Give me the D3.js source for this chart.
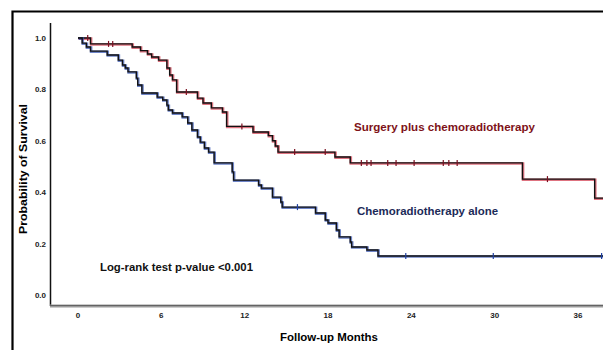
<!DOCTYPE html>
<html>
<head>
<meta charset="utf-8">
<script src="https://cdn.jsdelivr.net/npm/d3@7"></script>
<style>
  body { margin: 0; background: #fff; }
  svg { display: block; font-family: "Liberation Sans", Arial, sans-serif; }
</style>
</head>
<body>
<svg id="chart" width="603" height="350"></svg>
<script>
// x ticks (months) and y ticks (survival)
var monthTicks = [0, 6, 12, 18, 24, 30, 36];
var survTicks = [0.0, 0.2, 0.4, 0.6, 0.8, 1.0];

// surgery plus chemoradiotherapy: event times / survival after each step
var surgTimes = [0, 0.9, 3.9, 4.5, 5.0, 5.3, 5.8, 6.4, 6.6, 6.8, 7.1, 8.6, 9.0, 9.6, 10.4, 10.7, 12.6, 13.7, 14.0, 14.2, 14.4, 18.5, 19.6, 32.0, 37.2];
var surgSurv  = [1, 0.977, 0.965, 0.951, 0.938, 0.926, 0.914, 0.883, 0.856, 0.837, 0.79, 0.766, 0.747, 0.728, 0.712, 0.656, 0.634, 0.62, 0.60, 0.58, 0.556, 0.537, 0.514, 0.451, 0.377];
var surgCensor = [0.7, 2.2, 2.5, 7.8, 11.8, 15.6, 17.8, 20.4, 20.8, 21.1, 22.3, 22.9, 24.2, 26.3, 26.7, 27.3, 33.8];

// chemoradiotherapy alone
var chemoTimes = [0, 0.3, 0.6, 0.9, 2.1, 2.9, 3.2, 3.4, 3.6, 4.2, 4.3, 4.6, 5.7, 6.1, 6.4, 6.5, 6.8, 7.5, 7.9, 8.2, 8.6, 8.8, 9.1, 9.4, 9.8, 11.1, 11.2, 13.0, 13.2, 14.0, 14.6, 14.7, 17.1, 17.8, 18.0, 18.6, 18.8, 19.6, 19.7, 20.8, 21.6];
var chemoSurv  = [1, 0.98, 0.965, 0.949, 0.934, 0.914, 0.895, 0.883, 0.868, 0.844, 0.817, 0.786, 0.770, 0.759, 0.739, 0.720, 0.708, 0.693, 0.669, 0.642, 0.615, 0.595, 0.572, 0.556, 0.514, 0.479, 0.447, 0.428, 0.416, 0.381, 0.362, 0.342, 0.319, 0.292, 0.280, 0.253, 0.226, 0.206, 0.187, 0.175, 0.152];
var chemoCensor = [15.8, 23.6, 29.9, 37.7];

var endMonth = 38;

var svg = d3.select("#chart");

var x = d3.scaleLinear().domain([0, 36]).range([78, 578]);
var y = d3.scaleLinear().domain([0, 1]).range([295, 38]);

// outer frame (left + top)
svg.append("path")
	.attr("d", "M12.5,350 L12.5,11.5 L603,11.5")
	.attr("fill", "none")
	.attr("stroke", "#000")
	.attr("stroke-width", 2.2);

// y axis line
svg.append("line")
	.attr("x1", 50.5).attr("x2", 50.5)
	.attr("y1", 23).attr("y2", 306)
	.attr("stroke", "#111").attr("stroke-width", 1.5);

// x axis line (grey, doubled look)
svg.append("line")
	.attr("x1", 50).attr("x2", 603)
	.attr("y1", 306).attr("y2", 306)
	.attr("stroke", "#9a9a9a").attr("stroke-width", 3);
svg.append("line")
	.attr("x1", 50).attr("x2", 603)
	.attr("y1", 305.5).attr("y2", 305.5)
	.attr("stroke", "#555").attr("stroke-width", 0.8);

// tick labels
svg.append("g").selectAll("text")
	.data(survTicks)
	.enter().append("text")
	.attr("x", 46)
	.attr("y", function(d) { return y(d) + 3; })
	.attr("text-anchor", "end")
	.attr("font-size", 8)
	.attr("font-weight", "bold")
	.attr("fill", "#222")
	.text(function(d) { return d.toFixed(1); });

svg.append("g").selectAll("text")
	.data(monthTicks)
	.enter().append("text")
	.attr("x", function(d) { return x(d); })
	.attr("y", 318)
	.attr("text-anchor", "middle")
	.attr("font-size", 8)
	.attr("font-weight", "bold")
	.attr("fill", "#222")
	.text(function(d) { return d; });

// axis titles
svg.append("text")
	.attr("x", 329).attr("y", 341)
	.attr("text-anchor", "middle")
	.attr("font-size", 11)
	.attr("font-weight", "bold")
	.attr("textLength", 98)
	.attr("lengthAdjust", "spacingAndGlyphs")
	.text("Follow-up Months");

svg.append("text")
	.attr("transform", "translate(27,169) rotate(-90)")
	.attr("text-anchor", "middle")
	.attr("font-size", 10.5)
	.attr("font-weight", "bold")
	.attr("textLength", 130)
	.attr("lengthAdjust", "spacingAndGlyphs")
	.text("Probability of Survival");

function stepPoints(times, surv) {
	var pts = times.map(function(t, i) { return [t, surv[i]]; });
	pts.push([endMonth, surv[surv.length - 1]]);
	return pts;
}

function survAt(times, surv, t) {
	var s = surv[0];
	for (var i = 0; i < times.length; i++) {
		if (times[i] <= t) s = surv[i];
	}
	return s;
}

var line = d3.line()
	.x(function(d) { return x(d[0]); })
	.y(function(d) { return y(d[1]); })
	.curve(d3.curveStepAfter);

function drawCurve(times, surv, censor, halo, tickCol) {
	var pts = stepPoints(times, surv);
	var g = svg.append("g");
	g.append("path")
		.attr("d", line(pts))
		.attr("fill", "none")
		.attr("stroke", halo)
		.attr("stroke-opacity", 0.7)
		.attr("stroke-width", 2.6)
		.attr("transform", "translate(0.6,0.6)");
	g.append("path")
		.attr("d", line(pts))
		.attr("fill", "none")
		.attr("stroke", "#111")
		.attr("stroke-width", 1.4);
	g.selectAll("line.c")
		.data(censor)
		.enter().append("line")
		.attr("class", "c")
		.attr("x1", function(d) { return x(d); })
		.attr("x2", function(d) { return x(d); })
		.attr("y1", function(d) { return y(survAt(times, surv, d)) - 3; })
		.attr("y2", function(d) { return y(survAt(times, surv, d)) + 3; })
		.attr("stroke", tickCol)
		.attr("stroke-width", 1.2);
}

drawCurve(surgTimes, surgSurv, surgCensor, "#d0384a", "#7a1020");
drawCurve(chemoTimes, chemoSurv, chemoCensor, "#3050b0", "#2040a0");

// annotations
svg.append("text")
	.attr("x", 354).attr("y", 131)
	.attr("font-size", 11)
	.attr("font-weight", "bold")
	.attr("fill", "#7e1218")
	.attr("textLength", 181)
	.attr("lengthAdjust", "spacingAndGlyphs")
	.text("Surgery plus chemoradiotherapy");

svg.append("text")
	.attr("x", 357).attr("y", 215)
	.attr("font-size", 11)
	.attr("font-weight", "bold")
	.attr("fill", "#1c2a58")
	.attr("textLength", 141)
	.attr("lengthAdjust", "spacingAndGlyphs")
	.text("Chemoradiotherapy alone");

svg.append("text")
	.attr("x", 100).attr("y", 271)
	.attr("font-size", 10.5)
	.attr("font-weight", "bold")
	.attr("fill", "#111")
	.attr("textLength", 153)
	.attr("lengthAdjust", "spacingAndGlyphs")
	.text("Log-rank test p-value <0.001");
</script>
</body>
</html>
